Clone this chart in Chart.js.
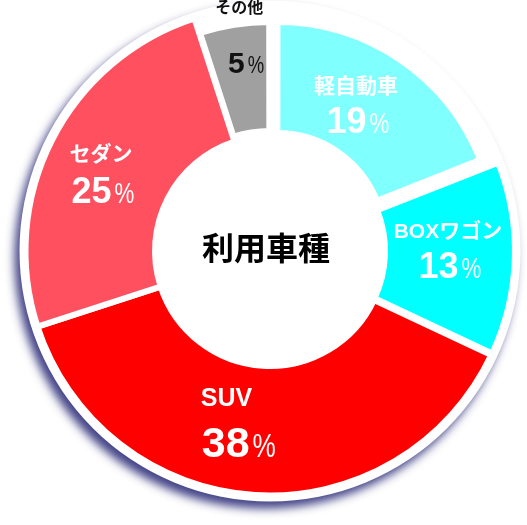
<!DOCTYPE html>
<html>
<head>
<meta charset="utf-8">
<script src="https://cdn.jsdelivr.net/npm/chart.js@4.4.0/dist/chart.umd.min.js"></script>
<style>
  html, body { margin: 0; padding: 0; background: #fff; }
  #wrap { width: 527px; height: 525px; position: relative; }
</style>
</head>
<body>
<div id="wrap"><canvas id="chart"></canvas></div>
<script>
// data
const categories = ['軽自動車', 'BOXワゴン', 'SUV', 'セダン', 'その他'];
const shares = [19, 13, 38, 25, 5];
const centerTitle = '利用車種';

// styling per slice
const colors = ['#80ffff', '#00ffff', '#ff0000', '#ff5060', '#a0a0a0'];
const offsets = [52, 16, 0, 0, 12];
const outerScale = [0.889, 0.981, 1, 1, 0.916];
const innerScale = [0.924, 0.956, 1, 1, 1.0];
// where the label sits: fraction along the arc, fraction of the outer radius
const labelAlong = [0.45, 0.444, 0.55, 0.48, 0.6];
const labelRadius = [0.703, 0.736, 0.705, 0.755, 0.78];
const labelScale = [1, 1, 1.2, 1, 0.83];
const labelGap = [33, 33, 43, 35, 0];
const labelColor = ['#fff', '#fff', '#fff', '#fff', '#111'];
const nameAlign = ['center', 'center', 'left', 'center', 'outside'];

const latin = '"Liberation Sans", Arial, sans-serif';
const jp = '"Liberation Sans", "Noto Sans CJK JP", sans-serif';

// each slice gets its own radius (the small ones are drawn smaller)
const segmentRadius = {
  id: 'segmentRadius',
  afterDatasetsUpdate(chart) {
    const meta = chart.getDatasetMeta(0);
    const ctrl = meta.controller;
    meta.data.forEach((arc, i) => {
      arc.outerRadius = ctrl.outerRadius * outerScale[i];
      arc.innerRadius = ctrl.innerRadius * innerScale[i];
    });
  }
};

// soft navy shadow behind the ring
const ringShadow = {
  id: 'ringShadow',
  beforeDatasetsDraw(chart) {
    const meta = chart.getDatasetMeta(0);
    const arc = meta.data[0];
    const ctx = chart.ctx;
    ctx.save();
    ctx.shadowColor = 'rgba(35,35,115,0.85)';
    ctx.shadowBlur = 10;
    ctx.shadowOffsetX = -5;
    ctx.shadowOffsetY = 7;
    ctx.fillStyle = '#fff';
    ctx.beginPath();
    ctx.arc(arc.x, arc.y, meta.controller.outerRadius + 6, 0, Math.PI * 2);
    ctx.fill();
    ctx.restore();
  }
};

// big number with a narrow, lighter percent sign; returns the left edge
function drawValue(ctx, x, y, value, size, color) {
  const numFont = `bold ${size}px ${latin}`;
  const pctSize = Math.round(size * 0.8);
  const pctFont = `${pctSize}px ${latin}`;
  const squeeze = 0.77;
  ctx.font = numFont;
  const w1 = ctx.measureText(String(value)).width;
  ctx.font = pctFont;
  const w2 = ctx.measureText('%').width * squeeze;
  const left = x - (w1 + w2 + 3) / 2;
  const base = y + size * 0.36;
  ctx.textAlign = 'left';
  ctx.textBaseline = 'alphabetic';
  ctx.fillStyle = color;
  ctx.font = numFont;
  ctx.fillText(String(value), left, base);
  ctx.save();
  ctx.translate(left + w1 + 3, base);
  ctx.scale(squeeze, 1);
  ctx.font = pctFont;
  ctx.fillText('%', 0, 0);
  ctx.restore();
  return left;
}

const sliceLabels = {
  id: 'sliceLabels',
  afterDatasetsDraw(chart) {
    const ctx = chart.ctx;
    const meta = chart.getDatasetMeta(0);
    const outer = meta.controller.outerRadius;
    ctx.save();
    meta.data.forEach((arc, i) => {
      const a = arc.startAngle + (arc.endAngle - arc.startAngle) * labelAlong[i];
      const r = outer * labelRadius[i];
      const x = arc.x + Math.cos(a) * r;
      const y = arc.y + Math.sin(a) * r;
      const s = labelScale[i];
      if (nameAlign[i] === 'outside') {
        drawValue(ctx, x, y, shares[i], Math.round(36 * s), labelColor[i]);
        ctx.fillStyle = labelColor[i];
        ctx.font = `bold 16px ${jp}`;
        ctx.textAlign = 'center';
        ctx.textBaseline = 'middle';
        ctx.fillText(categories[i], arc.x + Math.cos(a) * outer, arc.y + Math.sin(a) * outer);
        return;
      }
      const gap = labelGap[i];
      const left = drawValue(ctx, x, y + gap / 2, shares[i], Math.round(36 * s), labelColor[i]);
      ctx.fillStyle = labelColor[i];
      ctx.font = `bold ${Math.round(21 * s)}px ${jp}`;
      ctx.textBaseline = 'middle';
      if (nameAlign[i] === 'left') {
        ctx.textAlign = 'left';
        ctx.fillText(categories[i], left - 1, y - gap / 2);
      } else {
        ctx.textAlign = 'center';
        ctx.fillText(categories[i], x - 2, y - gap / 2);
      }
    });
    // title in the hole
    const c = meta.data[0];
    ctx.fillStyle = '#000';
    ctx.font = 'bold 32px "Noto Sans CJK JP", sans-serif';
    ctx.textAlign = 'center';
    ctx.textBaseline = 'middle';
    ctx.fillText(centerTitle, c.x - 4, c.y - 3);
    ctx.restore();
  }
};

new Chart(document.getElementById('chart'), {
  type: 'doughnut',
  data: {
    labels: categories,
    datasets: [{
      data: shares,
      backgroundColor: colors,
      borderColor: '#fff',
      borderWidth: 6,
      offset: offsets,
      clip: false
    }]
  },
  options: {
    responsive: true,
    maintainAspectRatio: false,
    animation: false,
    events: [],
    radius: 244.5,
    cutout: '47.03%',
    layout: { padding: { left: 13, right: 0, top: 0, bottom: 23 } },
    plugins: {
      legend: { display: false },
      tooltip: { enabled: false }
    }
  },
  plugins: [segmentRadius, ringShadow, sliceLabels]
});
</script>
</body>
</html>
